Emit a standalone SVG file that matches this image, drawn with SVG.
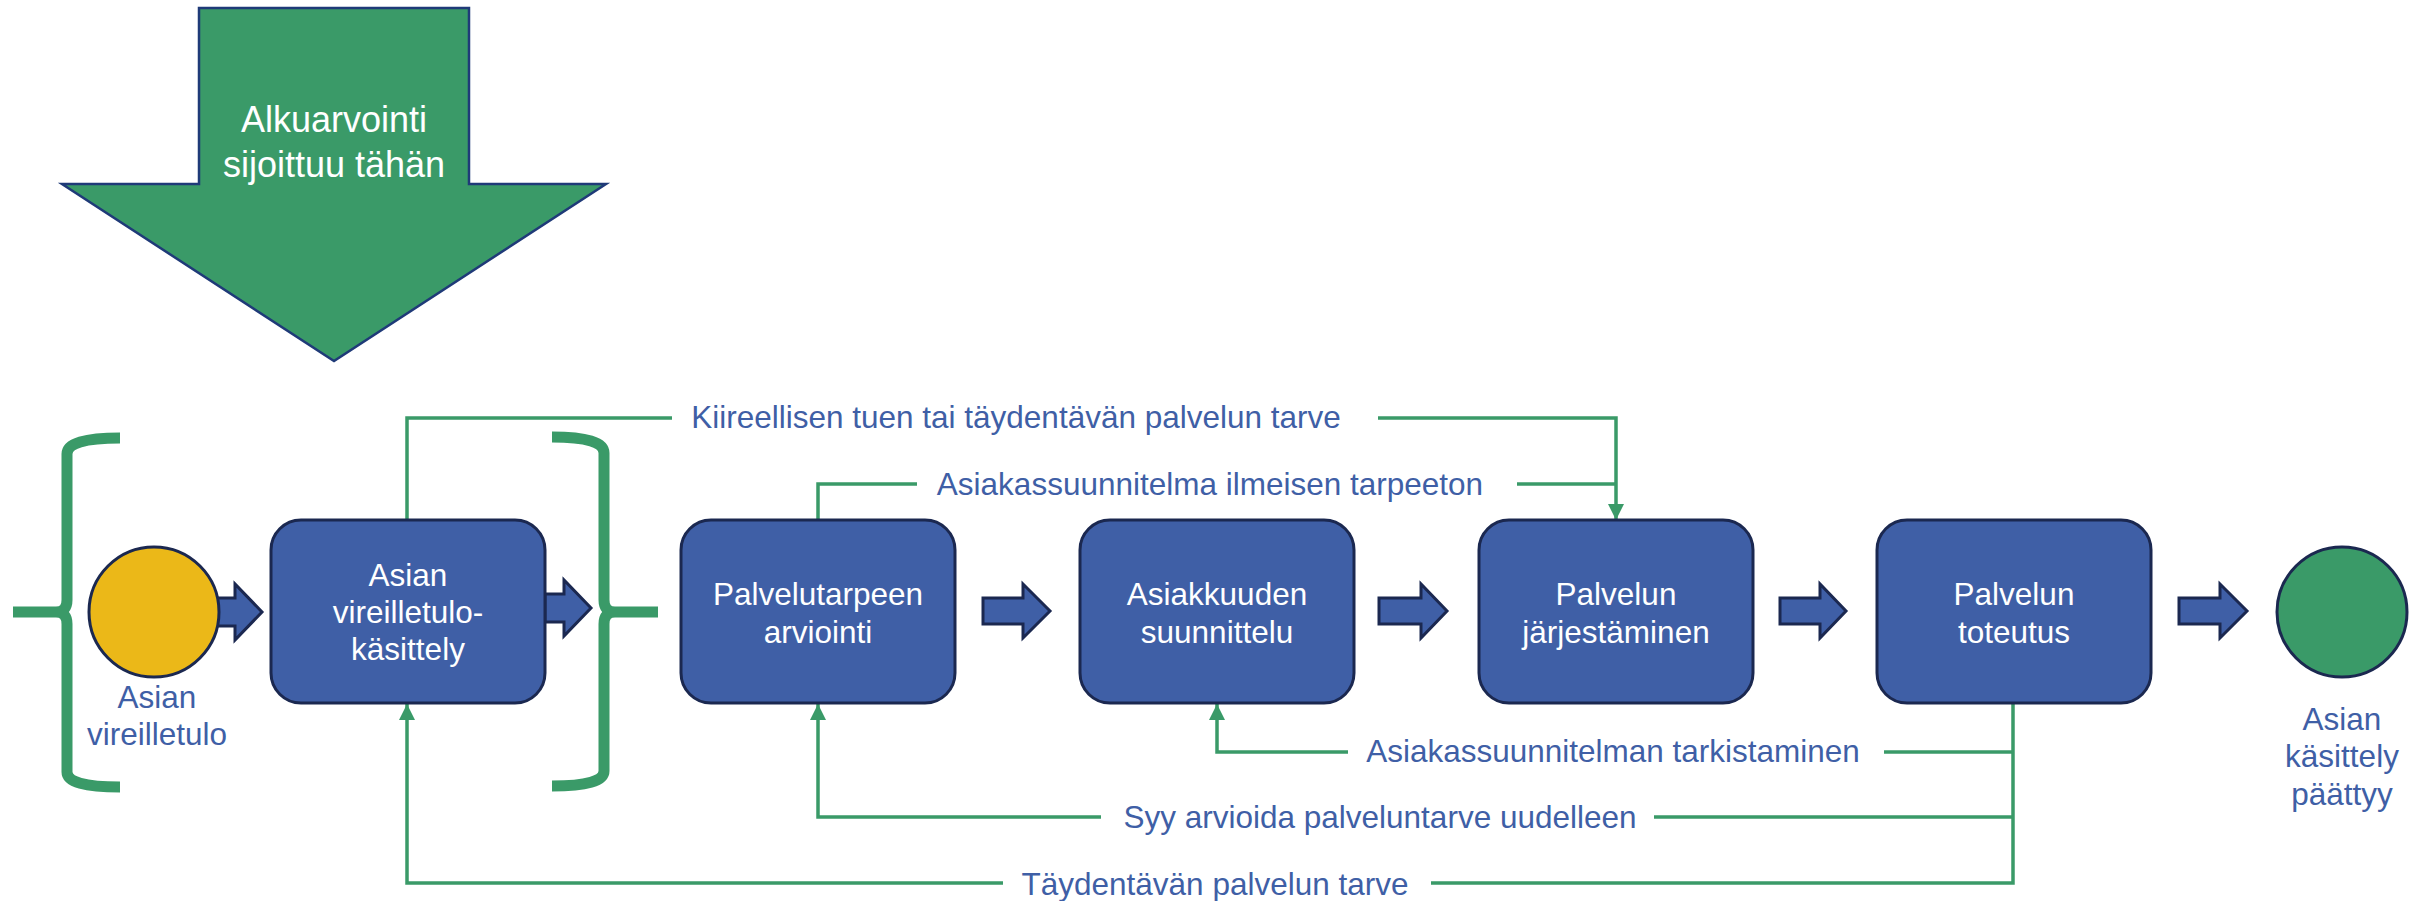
<svg xmlns="http://www.w3.org/2000/svg" width="2433" height="901" viewBox="0 0 2433 901">
<defs>
<style>
.box{fill:#3F5FA6;stroke:#1B2850;stroke-width:3}
.blk{fill:#3F5FA6;stroke:#1B2850;stroke-width:3;stroke-linejoin:miter}
.wt{fill:#FFFFFF;font-family:"Liberation Sans",Arial,sans-serif;font-size:31.5px;text-anchor:middle}
.bt{fill:#3F5FA6;font-family:"Liberation Sans",Arial,sans-serif;font-size:31.5px;text-anchor:middle}
.ln{fill:none;stroke:#3A9A68;stroke-width:3.5}
.br{fill:none;stroke:#3A9A68;stroke-width:11}
</style>
<marker id="ah" markerUnits="userSpaceOnUse" markerWidth="18" markerHeight="18" refX="16" refY="8" orient="auto">
<path d="M0,0 L16,8 L0,16 Z" fill="#3A9A68"/>
</marker>
</defs>
<rect width="2433" height="901" fill="#FFFFFF"/>

<g id="alkuarviointi">
<polygon points="199,8 469,8 469,184 606,184 334,361 62,184 199,184" fill="#3A9A68" stroke="#1F3A78" stroke-width="2.5"/>
<text class="wt" style="font-size:36px" x="334" y="132">Alkuarvointi</text>
<text class="wt" style="font-size:36px" x="334" y="177">sijoittuu tähän</text>
</g>

<g id="braces">
<path class="br" d="M120,438 Q67,438 67,454 L67,600 Q67,612 56,612 L13,612 M56,612 Q67,612 67,624 L67,772 Q67,787 120,787"/>
<path class="br" d="M552,437 Q604,437 604,453 L604,600 Q604,612 615,612 L658,612 M615,612 Q604,612 604,624 L604,771 Q604,786 552,786"/>
</g>

<g id="connectors">
<polygon class="blk" points="217,598 235,598 235,584 262,612 235,640 235,626 217,626"/>
<polygon class="blk" points="545,594 564,594 564,580 591,608 564,636 564,622 545,622"/>
<polygon class="blk" points="983,598 1023,598 1023,584 1050,611 1023,638 1023,624 983,624"/>
<polygon class="blk" points="1379,598 1421,598 1421,584 1447,611 1421,638 1421,624 1379,624"/>
<polygon class="blk" points="1780,598 1820,598 1820,584 1846,611 1820,638 1820,624 1780,624"/>
<polygon class="blk" points="2179,598 2220,598 2220,584 2247,611 2220,638 2220,624 2179,624"/>

<path class="ln" d="M407,520 L407,418 L672,418"/>
<path class="ln" d="M1378,418 L1616,418 L1616,520" marker-end="url(#ah)"/>
<path class="ln" d="M818,520 L818,484 L917,484"/>
<path class="ln" d="M1517,484 L1616,484"/>
<path class="ln" d="M2013,703 L2013,883 L1431,883"/>
<path class="ln" d="M1003,883 L407,883 L407,704" marker-end="url(#ah)"/>
<path class="ln" d="M2013,752 L1884,752"/>
<path class="ln" d="M1348,752 L1217,752 L1217,704" marker-end="url(#ah)"/>
<path class="ln" d="M2013,817 L1654,817"/>
<path class="ln" d="M1101,817 L818,817 L818,704" marker-end="url(#ah)"/>

<text class="bt" x="1016" y="428">Kiireellisen tuen tai täydentävän palvelun tarve</text>
<text class="bt" x="1210" y="495">Asiakassuunnitelma ilmeisen tarpeeton</text>
<text class="bt" x="1613" y="762">Asiakassuunnitelman tarkistaminen</text>
<text class="bt" x="1380" y="828">Syy arvioida palveluntarve uudelleen</text>
<text class="bt" x="1215" y="895">Täydentävän palvelun tarve</text>
</g>

<g id="start">
<circle cx="154" cy="612" r="65" fill="#EBB818" stroke="#1B2850" stroke-width="3"/>
<text class="bt" x="157" y="708">Asian</text>
<text class="bt" x="157" y="745">vireilletulo</text>
</g>

<g id="box1">
<rect class="box" x="271" y="520" width="274" height="183" rx="30" ry="30"/>
<text class="wt" x="408" y="586">Asian</text>
<text class="wt" x="408" y="623">vireilletulo-</text>
<text class="wt" x="408" y="660">käsittely</text>
</g>

<g id="box2">
<rect class="box" x="681" y="520" width="274" height="183" rx="30" ry="30"/>
<text class="wt" x="818" y="605">Palvelutarpeen</text>
<text class="wt" x="818" y="643">arviointi</text>
</g>

<g id="box3">
<rect class="box" x="1080" y="520" width="274" height="183" rx="30" ry="30"/>
<text class="wt" x="1217" y="605">Asiakkuuden</text>
<text class="wt" x="1217" y="643">suunnittelu</text>
</g>

<g id="box4">
<rect class="box" x="1479" y="520" width="274" height="183" rx="30" ry="30"/>
<text class="wt" x="1616" y="605">Palvelun</text>
<text class="wt" x="1616" y="643">järjestäminen</text>
</g>

<g id="box5">
<rect class="box" x="1877" y="520" width="274" height="183" rx="30" ry="30"/>
<text class="wt" x="2014" y="605">Palvelun</text>
<text class="wt" x="2014" y="643">toteutus</text>
</g>

<g id="end">
<circle cx="2342" cy="612" r="65" fill="#3A9A68" stroke="#1B2850" stroke-width="3"/>
<text class="bt" x="2342" y="730">Asian</text>
<text class="bt" x="2342" y="767">käsittely</text>
<text class="bt" x="2342" y="805">päättyy</text>
</g>
</svg>
